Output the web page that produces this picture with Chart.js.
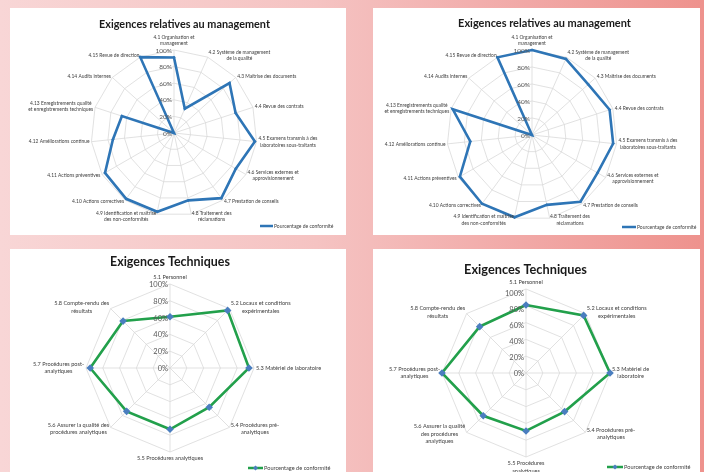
<!DOCTYPE html>
<html><head><meta charset="utf-8">
<script src="https://cdn.jsdelivr.net/npm/chart.js@4.4.1/dist/chart.umd.min.js"></script>
<style>
html,body{margin:0;padding:0;width:704px;height:472px;overflow:hidden;}
body{position:relative;background:linear-gradient(to right,#f8d6d6 0%,#f5c3c2 45%,#f1a8a6 75%,#ee928d 100%);}
.panel{position:absolute;background:#fff;}
.panel canvas{display:block;}
</style></head><body>
<div class="panel" style="left:10px;top:8px;width:336px;height:227px"><canvas id="c1" width="336" height="227"></canvas></div>
<div class="panel" style="left:373px;top:8px;width:327px;height:227px"><canvas id="c2" width="327" height="227"></canvas></div>
<div class="panel" style="left:10px;top:249px;width:336px;height:223px"><canvas id="c3" width="336" height="223"></canvas></div>
<div class="panel" style="left:373px;top:249px;width:327px;height:223px"><canvas id="c4" width="327" height="223"></canvas></div>
<script>
// ---------- DATA ----------
const mgmtTitle = 'Exigences relatives au management';
const techTitle = 'Exigences Techniques';
const seriesName = 'Pourcentage de conformité';
const tickLabels = ['0%', '20%', '40%', '60%', '80%', '100%'];

const mgmtLabels = [
  ['4.1 Organisation et', 'management'],
  ['4.2 Système de management', 'de la qualité'],
  '4.3 Maîtrise des documents',
  '4.4 Revue des contrats',
  ['4.5 Examens transmis à des', 'laboratoires sous-traitants'],
  ['4.6 Services externes et', 'approvisionnement'],
  '4.7 Prestation de conseils',
  ['4.8 Traitement des', 'réclamations'],
  ['4.9 Identification et maîtrise', 'des non-conformités'],
  '4.10 Actions correctives',
  '4.11 Actions préventives',
  '4.12 Améliorations continue',
  ['4.13 Enregistrements qualité', 'et enregistrements techniques'],
  '4.14 Audits internes',
  '4.15 Revue de direction'
];
const mgmtValuesA = [91, 32, 90, 78, 98, 86, 97, 83, 97, 98, 96, 74, 66, 0, 100];
const mgmtValuesB = [100, 98, 89, 96, 96, 89, 97, 84, 99, 100, 98, 73, 98, 0, 100];

const techLabelsA = [
  '5.1 Personnel',
  ['5.2 Locaux et conditions', 'expérimentales'],
  '5.3 Matériel de laboratoire',
  ['5.4 Procédures pré-', 'analytiques'],
  '5.5 Procédures analytiques',
  ['5.6 Assurer la qualité des', 'procédures analytiques'],
  ['5.7 Procédures post-', 'analytiques'],
  ['5.8 Compte-rendu des', 'résultats']
];
const techLabelsB = [
  '5.1 Personnel',
  ['5.2 Locaux et conditions', 'expérimentales'],
  ['5.3 Matériel de', 'laboratoire'],
  ['5.4 Procédures pré-', 'analytiques'],
  ['5.5 Procédures', 'analytiques'],
  ['5.6 Assurer la qualité', 'des procédures', 'analytiques'],
  ['5.7 Procédures post-', 'analytiques'],
  ['5.8 Compte-rendu des', 'résultats']
];
const techValuesA = [61, 97, 94, 66, 73, 73, 95, 79];
const techValuesB = [81, 97, 100, 65, 69, 72, 100, 78];

// ---------- STYLE / LAYOUT ----------
const FONT = 'Lato, "Open Sans", sans-serif';
const BLUE = '#2e75b6', GREEN = '#22a04b', MARKER = '#4a7ebf';

const excelRadar = {
  id: 'excelRadar',
  afterDraw(chart, args, o) {
    const ctx = chart.ctx, s = chart.scales.r;
    ctx.save();
    // tick labels (left of vertical axis)
    ctx.font = o.tickSize + 'px ' + FONT;
    ctx.fillStyle = '#595959';
    ctx.textAlign = 'right';
    ctx.textBaseline = 'middle';
    s.ticks.forEach((t, i) => {
      const d = s.getDistanceFromCenterForValue(t.value) * o.tickScale;
      ctx.fillText(tickLabels[i], s.xCenter - 2, s.yCenter - d + 0.5);
    });
    // point labels
    ctx.font = o.labelSize + 'px ' + FONT;
    ctx.fillStyle = '#404040';
    const lh = o.labelSize * 1.3;
    chart.data.labels.forEach((lab, i) => {
      const lines = Array.isArray(lab) ? lab : [lab];
      const p = s.getPointPosition(i, s.drawingArea + o.labelPad);
      const ang = ((s.getIndexAngle(i) * 180 / Math.PI) % 360 + 360) % 360;
      const w = Math.max(...lines.map(l => ctx.measureText(l).width));
      const h = lines.length * lh;
      let cx, top;
      if (Math.abs(ang) < 1 || Math.abs(ang - 360) < 1) { cx = p.x; top = p.y - h - 1; }
      else if (Math.abs(ang - 180) < 1) { cx = p.x; top = p.y + 1; }
      else if (ang < 180) { cx = p.x + w / 2; top = p.y - h / 2; }
      else { cx = p.x - w / 2; top = p.y - h / 2; }
      ctx.textAlign = 'center';
      ctx.textBaseline = 'middle';
      lines.forEach((l, k) => ctx.fillText(l, cx, top + lh * (k + 0.5)));
    });
    // title
    ctx.font = 'bold 20px ' + FONT;
    const tw = ctx.measureText(o.title).width;
    const ts = 20 * o.titleWidth / tw;
    ctx.font = 'bold ' + ts + 'px ' + FONT;
    ctx.fillStyle = '#1a1a1a';
    ctx.textAlign = 'center';
    ctx.textBaseline = 'middle';
    ctx.fillText(o.title, o.titleX, o.titleY);
    // legend
    const ds = chart.data.datasets[0];
    ctx.strokeStyle = ds.borderColor;
    ctx.lineWidth = 2.5;
    ctx.beginPath();
    ctx.moveTo(o.legX, o.legY);
    ctx.lineTo(o.legX + o.legLen, o.legY);
    ctx.stroke();
    if (o.legMarker) {
      ctx.fillStyle = MARKER;
      const mx = o.legX + o.legLen / 2, my = o.legY, m = 2.6;
      ctx.beginPath();
      ctx.moveTo(mx, my - m); ctx.lineTo(mx + m, my); ctx.lineTo(mx, my + m); ctx.lineTo(mx - m, my);
      ctx.closePath(); ctx.fill();
    }
    ctx.font = o.legSize + 'px ' + FONT;
    ctx.fillStyle = '#404040';
    ctx.textAlign = 'left';
    ctx.textBaseline = 'middle';
    ctx.fillText(ds.label, o.legX + o.legLen + 1, o.legY);
    ctx.restore();
  }
};

function makeRadar(id, geom, labels, values, color, tech, deco) {
  const pad = {
    left: geom.cx - geom.r,
    top: geom.cy - geom.r,
    right: geom.w - (geom.cx + geom.r),
    bottom: geom.h - (geom.cy + geom.r)
  };
  return new Chart(document.getElementById(id), {
    type: 'radar',
    data: {
      labels: labels,
      datasets: [{
        label: seriesName,
        data: values,
        borderColor: color,
        borderWidth: 2.6,
        backgroundColor: 'transparent',
        fill: false,
        pointStyle: 'rectRot',
        pointRadius: tech ? 3.8 : 1.6,
        pointBackgroundColor: tech ? MARKER : color,
        pointBorderWidth: 0,
        tension: 0
      }]
    },
    options: {
      responsive: false,
      animation: false,
      layout: { padding: pad },
      plugins: {
        legend: { display: false },
        title: { display: false },
        tooltip: { enabled: false },
        excelRadar: deco
      },
      scales: {
        r: {
          min: 0, max: 100,
          startAngle: 0,
          ticks: { stepSize: 20, display: false },
          pointLabels: { display: false },
          grid: { color: '#d9d9d9', lineWidth: 0.8 },
          angleLines: { color: '#d9d9d9', lineWidth: 0.8 }
        }
      }
    },
    plugins: [excelRadar]
  });
}

makeRadar('c1', { w: 336, h: 227, cx: 164, cy: 125.3, r: 83.3 }, mgmtLabels, mgmtValuesA, BLUE, false,
  { title: mgmtTitle, titleX: 174.5, titleY: 16, titleWidth: 171, tickSize: 6.5, tickScale: 1, labelSize: 4.9, labelPad: 2,
    legX: 250, legY: 218, legLen: 13, legSize: 5, legMarker: false });
makeRadar('c2', { w: 327, h: 227, cx: 159.5, cy: 127.5, r: 85 }, mgmtLabels, mgmtValuesB, BLUE, false,
  { title: mgmtTitle, titleX: 171.5, titleY: 15, titleWidth: 173, tickSize: 6.5, tickScale: 1, labelSize: 4.9, labelPad: 2,
    legX: 249, legY: 219, legLen: 14, legSize: 5, legMarker: false });
makeRadar('c3', { w: 336, h: 223, cx: 160.7, cy: 119.5, r: 84 }, techLabelsA, techValuesA, GREEN, true,
  { title: techTitle, titleX: 160, titleY: 13, titleWidth: 120, tickSize: 7.5, tickScale: 1, labelSize: 5.6, labelPad: 2,
    legX: 238, legY: 219, legLen: 15, legSize: 5.6, legMarker: true });
makeRadar('c4', { w: 327, h: 223, cx: 153, cy: 124.3, r: 84 }, techLabelsB, techValuesB, GREEN, true,
  { title: techTitle, titleX: 152.5, titleY: 21, titleWidth: 123, tickSize: 7.5, tickScale: 0.95, labelSize: 5.6, labelPad: 2,
    legX: 234, legY: 218, legLen: 16, legSize: 5.6, legMarker: true });
</script>
</body></html>
